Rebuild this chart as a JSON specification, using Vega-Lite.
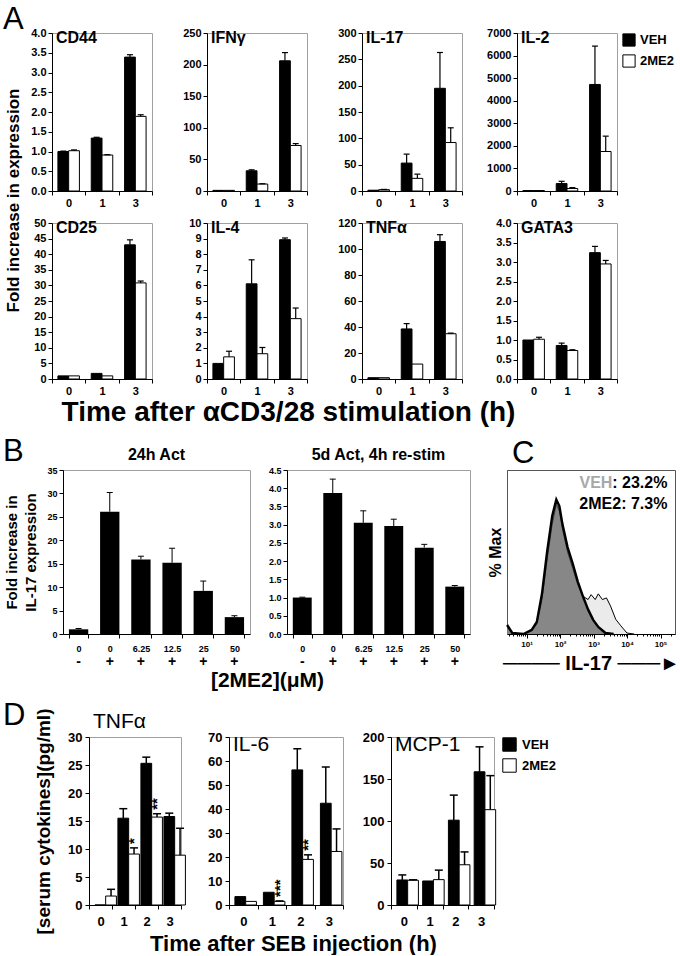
{
"$schema": "https://vega.github.io/schema/vega-lite/v6.json",
"background": "white",
"padding": {"left": 3, "top": 3, "right": 0, "bottom": 0},
"title": {"text": "A", "anchor": "start", "fontSize": 31, "fontWeight": "normal", "offset": -9},
"config": {
 "font": "Liberation Sans",
 "view": {"stroke": "#a0a0a0", "strokeWidth": 1},
 "axis": {"grid": false, "domainColor": "black", "domainWidth": 1, "tickColor": "black", "tickWidth": 1, "labelColor": "black", "labelFontWeight": "bold", "titleColor": "black", "titleFontWeight": "bold"},
 "title": {"color": "black"},
 "legend": {"labelColor": "black"}
},
"datasets": {
 "A": [
  {"g":"CD44","t":"0","s":"VEH","v":1.0,"hi":1.01},{"g":"CD44","t":"0","s":"2ME2","v":1.02,"hi":1.04},
  {"g":"CD44","t":"1","s":"VEH","v":1.34,"hi":1.36},{"g":"CD44","t":"1","s":"2ME2","v":0.91,"hi":0.92},
  {"g":"CD44","t":"3","s":"VEH","v":3.39,"hi":3.45},{"g":"CD44","t":"3","s":"2ME2","v":1.89,"hi":1.93},
  {"g":"IFNg","t":"0","s":"VEH","v":1.0},{"g":"IFNg","t":"0","s":"2ME2","v":1.0},
  {"g":"IFNg","t":"1","s":"VEH","v":32,"hi":33.5},{"g":"IFNg","t":"1","s":"2ME2","v":11,"hi":11.5},
  {"g":"IFNg","t":"3","s":"VEH","v":206,"hi":219},{"g":"IFNg","t":"3","s":"2ME2","v":72,"hi":75},
  {"g":"IL17","t":"0","s":"VEH","v":1.5},{"g":"IL17","t":"0","s":"2ME2","v":2.5,"hi":3},
  {"g":"IL17","t":"1","s":"VEH","v":53,"hi":70},{"g":"IL17","t":"1","s":"2ME2","v":24,"hi":32},
  {"g":"IL17","t":"3","s":"VEH","v":195,"hi":263},{"g":"IL17","t":"3","s":"2ME2","v":92,"hi":120},
  {"g":"IL2","t":"0","s":"VEH","v":20},{"g":"IL2","t":"0","s":"2ME2","v":20},
  {"g":"IL2","t":"1","s":"VEH","v":330,"hi":430},{"g":"IL2","t":"1","s":"2ME2","v":110,"hi":150},
  {"g":"IL2","t":"3","s":"VEH","v":4720,"hi":6420},{"g":"IL2","t":"3","s":"2ME2","v":1750,"hi":2430},
  {"g":"CD25","t":"0","s":"VEH","v":1.0},{"g":"CD25","t":"0","s":"2ME2","v":1.0},
  {"g":"CD25","t":"1","s":"VEH","v":1.8},{"g":"CD25","t":"1","s":"2ME2","v":1.0},
  {"g":"CD25","t":"3","s":"VEH","v":43.0,"hi":44.6},{"g":"CD25","t":"3","s":"2ME2","v":30.8,"hi":31.4},
  {"g":"IL4","t":"0","s":"VEH","v":1.0},{"g":"IL4","t":"0","s":"2ME2","v":1.42,"hi":1.78},
  {"g":"IL4","t":"1","s":"VEH","v":6.1,"hi":7.64},{"g":"IL4","t":"1","s":"2ME2","v":1.62,"hi":2.02},
  {"g":"IL4","t":"3","s":"VEH","v":8.93,"hi":9.04},{"g":"IL4","t":"3","s":"2ME2","v":3.87,"hi":4.55},
  {"g":"TNFa","t":"0","s":"VEH","v":1.0},{"g":"TNFa","t":"0","s":"2ME2","v":1.0},
  {"g":"TNFa","t":"1","s":"VEH","v":38.5,"hi":42.6},{"g":"TNFa","t":"1","s":"2ME2","v":11.5},
  {"g":"TNFa","t":"3","s":"VEH","v":105.8,"hi":111},{"g":"TNFa","t":"3","s":"2ME2","v":34.8,"hi":35.3},
  {"g":"GATA3","t":"0","s":"VEH","v":1.0},{"g":"GATA3","t":"0","s":"2ME2","v":1.02,"hi":1.07},
  {"g":"GATA3","t":"1","s":"VEH","v":0.86,"hi":0.92},{"g":"GATA3","t":"1","s":"2ME2","v":0.73,"hi":0.75},
  {"g":"GATA3","t":"3","s":"VEH","v":3.24,"hi":3.40},{"g":"GATA3","t":"3","s":"2ME2","v":2.95,"hi":3.04}
 ],
 "B": [
  {"p":"L","c":"0|-","v":1.0,"hi":1.2},{"p":"L","c":"0|+","v":26.1,"hi":30.2},{"p":"L","c":"6.25|+","v":15.9,"hi":16.6},
  {"p":"L","c":"12.5|+","v":15.2,"hi":18.3},{"p":"L","c":"25|+","v":9.2,"hi":11.3},{"p":"L","c":"50|+","v":3.6,"hi":3.9},
  {"p":"R","c":"0|-","v":1.0,"hi":1.01},{"p":"R","c":"0|+","v":3.87,"hi":4.25},{"p":"R","c":"6.25|+","v":3.05,"hi":3.38},
  {"p":"R","c":"12.5|+","v":2.96,"hi":3.15},{"p":"R","c":"25|+","v":2.37,"hi":2.46},{"p":"R","c":"50|+","v":1.3,"hi":1.33}
 ],
 "C": [
  {"s":"VEH","x":2.62,"y":5.5},{"s":"VEH","x":3.73,"y":0.6},{"s":"VEH","x":8.09,"y":0},{"s":"VEH","x":14.2,"y":1.8},
  {"s":"VEH","x":20.2,"y":6},{"s":"VEH","x":28.8,"y":21},{"s":"VEH","x":40.9,"y":45},{"s":"VEH","x":58.2,"y":67},
  {"s":"VEH","x":77.1,"y":79},{"s":"VEH","x":95.3,"y":75},{"s":"VEH","x":117.6,"y":64},{"s":"VEH","x":167,"y":50},
  {"s":"VEH","x":238,"y":40},{"s":"VEH","x":338,"y":30},{"s":"VEH","x":481,"y":23},{"s":"VEH","x":684,"y":21},
  {"s":"VEH","x":845,"y":24},{"s":"VEH","x":1119,"y":21},{"s":"VEH","x":1383,"y":24.5},{"s":"VEH","x":1834,"y":21},
  {"s":"VEH","x":2428,"y":22},{"s":"VEH","x":3219,"y":17},{"s":"VEH","x":4578,"y":9},{"s":"VEH","x":6508,"y":5},
  {"s":"VEH","x":9925,"y":0.6},{"s":"VEH","x":16250,"y":0},
  {"s":"2ME2","x":2.62,"y":5.5},{"s":"2ME2","x":3.73,"y":0.6},{"s":"2ME2","x":8.09,"y":0},{"s":"2ME2","x":14.2,"y":2.5},
  {"s":"2ME2","x":20.2,"y":7.4},{"s":"2ME2","x":28.8,"y":24.5},{"s":"2ME2","x":40.9,"y":50},{"s":"2ME2","x":58.2,"y":72},
  {"s":"2ME2","x":77.1,"y":82},{"s":"2ME2","x":95.3,"y":78},{"s":"2ME2","x":117.6,"y":67},{"s":"2ME2","x":167,"y":53},
  {"s":"2ME2","x":238,"y":43},{"s":"2ME2","x":338,"y":32},{"s":"2ME2","x":481,"y":23},{"s":"2ME2","x":684,"y":15},
  {"s":"2ME2","x":973,"y":8.6},{"s":"2ME2","x":1383,"y":4.3},{"s":"2ME2","x":2266,"y":0.6},{"s":"2ME2","x":3975,"y":0}
 ],
 "Cnote": [{"k":"a","txt":"VEH"},{"k":"b","txt":": 23.2%"},{"k":"c","txt":"2ME2: 7.3%"}],
 "D": [
  {"g":"TNFa","t":"0","s":"VEH","v":0},{"g":"TNFa","t":"0","s":"2ME2","v":1.6,"hi":2.8},
  {"g":"TNFa","t":"1","s":"VEH","v":15.5,"hi":17.2},{"g":"TNFa","t":"1","s":"2ME2","v":9.1,"hi":10.2,"sig":"*"},
  {"g":"TNFa","t":"2","s":"VEH","v":25.3,"hi":26.4},{"g":"TNFa","t":"2","s":"2ME2","v":15.7,"hi":16.3,"sig":"**"},
  {"g":"TNFa","t":"3","s":"VEH","v":15.8,"hi":16.4},{"g":"TNFa","t":"3","s":"2ME2","v":8.9,"hi":13.7},
  {"g":"IL6","t":"0","s":"VEH","v":3.5},{"g":"IL6","t":"0","s":"2ME2","v":1.5},
  {"g":"IL6","t":"1","s":"VEH","v":5.3},{"g":"IL6","t":"1","s":"2ME2","v":1.5,"hi":1.7,"sig":"***"},
  {"g":"IL6","t":"2","s":"VEH","v":56.3,"hi":65.1},{"g":"IL6","t":"2","s":"2ME2","v":19,"hi":20.9,"sig":"**"},
  {"g":"IL6","t":"3","s":"VEH","v":42.4,"hi":57.5},{"g":"IL6","t":"3","s":"2ME2","v":22.3,"hi":31.7},
  {"g":"MCP1","t":"0","s":"VEH","v":29.8,"hi":35.8},{"g":"MCP1","t":"0","s":"2ME2","v":29.5,"hi":30},
  {"g":"MCP1","t":"1","s":"VEH","v":28.6},{"g":"MCP1","t":"1","s":"2ME2","v":30.2,"hi":41.5},
  {"g":"MCP1","t":"2","s":"VEH","v":101,"hi":130.8},{"g":"MCP1","t":"2","s":"2ME2","v":47.9,"hi":63.2},
  {"g":"MCP1","t":"3","s":"VEH","v":158.6,"hi":188.3},{"g":"MCP1","t":"3","s":"2ME2","v":113.5,"hi":154}
 ]
},
"resolve": {"legend": {"fill": "independent"}},
"spacing": 8,
"vconcat": [
 {"bounds": "flush", "spacing": 0, "resolve": {"legend": {"fill": "independent"}},
  "hconcat": [
  {"width": 49, "height": 1, "view": {"fill": "white", "stroke": null}, "data": {"values": []}, "mark": "point"},
  {
  "columns": 4, "bounds": "flush", "spacing": {"row": 32, "column": 55},
  "resolve": {"legend": {"fill": "independent"}},
  "concat": [
   {"width": 100, "height": 158, "data": {"name": "A"}, "transform": [{"filter": "datum.g === 'CD44'"}],
    "title": {"text": "CD44", "anchor": "start", "frame": "group", "offset": 0, "dx": 4, "dy": 19, "fontSize": 16, "fontWeight": "bold"},
    "encoding": {"x": {"field": "t", "type": "nominal", "title": null, "scale": {"paddingInner": 0, "paddingOuter": 0}, "axis": {"labelAngle": 0, "tickBand": "extent", "labelFontSize": 11, "tickSize": 4, "labelPadding": 2}},
     "xOffset": {"field": "s", "type": "nominal", "sort": ["VEH", "2ME2"], "scale": {"paddingInner": 0, "paddingOuter": 0.55}}},
    "layer": [
     {"mark": {"type": "bar", "stroke": "black", "strokeWidth": 1}, "encoding": {"y": {"field": "v", "type": "quantitative", "title": "Fold increase in expression", "scale": {"domain": [0, 4], "nice": false}, "axis": {"values": [0,0.5,1,1.5,2,2.5,3,3.5,4], "tickCount": 30, "format": ".1f", "labelOverlap": false, "labelFontSize": 11, "tickSize": 4, "labelPadding": 2, "titleFontSize": 17, "titleY": 167, "titlePadding": 8}}, "fill": {"field": "s", "type": "nominal", "scale": {"domain": ["VEH", "2ME2"], "range": ["black", "white"]}, "legend": null}}},
     {"mark": {"type": "rule", "color": "black", "strokeWidth": 1.2}, "encoding": {"y": {"field": "hi", "type": "quantitative", "scale": {"domain": [0, 4], "nice": false}}, "y2": {"field": "v"}}},
     {"mark": {"type": "tick", "color": "black", "opacity": 1, "thickness": 1.2, "size": 6}, "encoding": {"y": {"field": "hi", "type": "quantitative", "scale": {"domain": [0, 4], "nice": false}}}}
    ]},
   {"width": 100, "height": 158, "data": {"name": "A"}, "transform": [{"filter": "datum.g === 'IFNg'"}],
    "title": {"text": "IFNγ", "anchor": "start", "frame": "group", "offset": 0, "dx": 4, "dy": 19, "fontSize": 16, "fontWeight": "bold"},
    "encoding": {"x": {"field": "t", "type": "nominal", "title": null, "scale": {"paddingInner": 0, "paddingOuter": 0}, "axis": {"labelAngle": 0, "tickBand": "extent", "labelFontSize": 11, "tickSize": 4, "labelPadding": 2}},
     "xOffset": {"field": "s", "type": "nominal", "sort": ["VEH", "2ME2"], "scale": {"paddingInner": 0, "paddingOuter": 0.55}}},
    "layer": [
     {"mark": {"type": "bar", "stroke": "black", "strokeWidth": 1}, "encoding": {"y": {"field": "v", "type": "quantitative", "title": null, "scale": {"domain": [0, 250], "nice": false}, "axis": {"values": [0,50,100,150,200,250], "tickCount": 30, "format": "d", "labelOverlap": false, "labelFontSize": 11, "tickSize": 4, "labelPadding": 2}}, "fill": {"field": "s", "type": "nominal", "scale": {"domain": ["VEH", "2ME2"], "range": ["black", "white"]}, "legend": null}}},
     {"mark": {"type": "rule", "color": "black", "strokeWidth": 1.2}, "encoding": {"y": {"field": "hi", "type": "quantitative", "scale": {"domain": [0, 250], "nice": false}}, "y2": {"field": "v"}}},
     {"mark": {"type": "tick", "color": "black", "opacity": 1, "thickness": 1.2, "size": 6}, "encoding": {"y": {"field": "hi", "type": "quantitative", "scale": {"domain": [0, 250], "nice": false}}}}
    ]},
   {"width": 100, "height": 158, "data": {"name": "A"}, "transform": [{"filter": "datum.g === 'IL17'"}],
    "title": {"text": "IL-17", "anchor": "start", "frame": "group", "offset": 0, "dx": 4, "dy": 19, "fontSize": 16, "fontWeight": "bold"},
    "encoding": {"x": {"field": "t", "type": "nominal", "title": null, "scale": {"paddingInner": 0, "paddingOuter": 0}, "axis": {"labelAngle": 0, "tickBand": "extent", "labelFontSize": 11, "tickSize": 4, "labelPadding": 2}},
     "xOffset": {"field": "s", "type": "nominal", "sort": ["VEH", "2ME2"], "scale": {"paddingInner": 0, "paddingOuter": 0.55}}},
    "layer": [
     {"mark": {"type": "bar", "stroke": "black", "strokeWidth": 1}, "encoding": {"y": {"field": "v", "type": "quantitative", "title": null, "scale": {"domain": [0, 300], "nice": false}, "axis": {"values": [0,50,100,150,200,250,300], "tickCount": 30, "format": "d", "labelOverlap": false, "labelFontSize": 11, "tickSize": 4, "labelPadding": 2}}, "fill": {"field": "s", "type": "nominal", "scale": {"domain": ["VEH", "2ME2"], "range": ["black", "white"]}, "legend": null}}},
     {"mark": {"type": "rule", "color": "black", "strokeWidth": 1.2}, "encoding": {"y": {"field": "hi", "type": "quantitative", "scale": {"domain": [0, 300], "nice": false}}, "y2": {"field": "v"}}},
     {"mark": {"type": "tick", "color": "black", "opacity": 1, "thickness": 1.2, "size": 6}, "encoding": {"y": {"field": "hi", "type": "quantitative", "scale": {"domain": [0, 300], "nice": false}}}}
    ]},
   {"width": 100, "height": 158, "data": {"name": "A"}, "transform": [{"filter": "datum.g === 'IL2'"}],
    "title": {"text": "IL-2", "anchor": "start", "frame": "group", "offset": 0, "dx": 4, "dy": 19, "fontSize": 16, "fontWeight": "bold"},
    "encoding": {"x": {"field": "t", "type": "nominal", "title": null, "scale": {"paddingInner": 0, "paddingOuter": 0}, "axis": {"labelAngle": 0, "tickBand": "extent", "labelFontSize": 11, "tickSize": 4, "labelPadding": 2}},
     "xOffset": {"field": "s", "type": "nominal", "sort": ["VEH", "2ME2"], "scale": {"paddingInner": 0, "paddingOuter": 0.55}}},
    "layer": [
     {"mark": {"type": "bar", "stroke": "black", "strokeWidth": 1}, "encoding": {"y": {"field": "v", "type": "quantitative", "title": null, "scale": {"domain": [0, 7000], "nice": false}, "axis": {"values": [0,1000,2000,3000,4000,5000,6000,7000], "tickCount": 30, "format": "d", "labelOverlap": false, "labelFontSize": 11, "tickSize": 4, "labelPadding": 2}}, "fill": {"field": "s", "type": "nominal", "scale": {"domain": ["VEH", "2ME2"], "range": ["black", "white"]}, "legend": {"title": null, "orient": "right", "offset": 5, "symbolType": "square", "symbolSize": 150, "symbolStrokeColor": "black", "symbolStrokeWidth": 1, "labelFontSize": 13, "labelFontWeight": "bold", "labelOffset": 4, "rowPadding": 3, "padding": 0}}}},
     {"mark": {"type": "rule", "color": "black", "strokeWidth": 1.2}, "encoding": {"y": {"field": "hi", "type": "quantitative", "scale": {"domain": [0, 7000], "nice": false}}, "y2": {"field": "v"}}},
     {"mark": {"type": "tick", "color": "black", "opacity": 1, "thickness": 1.2, "size": 6}, "encoding": {"y": {"field": "hi", "type": "quantitative", "scale": {"domain": [0, 7000], "nice": false}}}}
    ]},
   {"width": 100, "height": 156, "data": {"name": "A"}, "transform": [{"filter": "datum.g === 'CD25'"}],
    "title": {"text": "CD25", "anchor": "start", "frame": "group", "offset": 0, "dx": 4, "dy": 19, "fontSize": 16, "fontWeight": "bold"},
    "encoding": {"x": {"field": "t", "type": "nominal", "title": null, "scale": {"paddingInner": 0, "paddingOuter": 0}, "axis": {"labelAngle": 0, "tickBand": "extent", "labelFontSize": 11, "tickSize": 4, "labelPadding": 2}},
     "xOffset": {"field": "s", "type": "nominal", "sort": ["VEH", "2ME2"], "scale": {"paddingInner": 0, "paddingOuter": 0.55}}},
    "layer": [
     {"mark": {"type": "bar", "stroke": "black", "strokeWidth": 1}, "encoding": {"y": {"field": "v", "type": "quantitative", "title": null, "scale": {"domain": [0, 50], "nice": false}, "axis": {"values": [0,5,10,15,20,25,30,35,40,45,50], "tickCount": 30, "format": "d", "labelOverlap": false, "labelFontSize": 11, "tickSize": 4, "labelPadding": 2}}, "fill": {"field": "s", "type": "nominal", "scale": {"domain": ["VEH", "2ME2"], "range": ["black", "white"]}, "legend": null}}},
     {"mark": {"type": "rule", "color": "black", "strokeWidth": 1.2}, "encoding": {"y": {"field": "hi", "type": "quantitative", "scale": {"domain": [0, 50], "nice": false}}, "y2": {"field": "v"}}},
     {"mark": {"type": "tick", "color": "black", "opacity": 1, "thickness": 1.2, "size": 6}, "encoding": {"y": {"field": "hi", "type": "quantitative", "scale": {"domain": [0, 50], "nice": false}}}}
    ]},
   {"width": 100, "height": 156, "data": {"name": "A"}, "transform": [{"filter": "datum.g === 'IL4'"}],
    "title": {"text": "IL-4", "anchor": "start", "frame": "group", "offset": 0, "dx": 4, "dy": 19, "fontSize": 16, "fontWeight": "bold"},
    "encoding": {"x": {"field": "t", "type": "nominal", "title": "Time after αCD3/28 stimulation (h)", "scale": {"paddingInner": 0, "paddingOuter": 0}, "axis": {"labelAngle": 0, "tickBand": "extent", "labelFontSize": 11, "tickSize": 4, "labelPadding": 2, "titleX": 81, "titleFontSize": 28, "titlePadding": 2}},
     "xOffset": {"field": "s", "type": "nominal", "sort": ["VEH", "2ME2"], "scale": {"paddingInner": 0, "paddingOuter": 0.55}}},
    "layer": [
     {"mark": {"type": "bar", "stroke": "black", "strokeWidth": 1}, "encoding": {"y": {"field": "v", "type": "quantitative", "title": null, "scale": {"domain": [0, 10], "nice": false}, "axis": {"values": [0,1,2,3,4,5,6,7,8,9,10], "tickCount": 30, "format": "d", "labelOverlap": false, "labelFontSize": 11, "tickSize": 4, "labelPadding": 2}}, "fill": {"field": "s", "type": "nominal", "scale": {"domain": ["VEH", "2ME2"], "range": ["black", "white"]}, "legend": null}}},
     {"mark": {"type": "rule", "color": "black", "strokeWidth": 1.2}, "encoding": {"y": {"field": "hi", "type": "quantitative", "scale": {"domain": [0, 10], "nice": false}}, "y2": {"field": "v"}}},
     {"mark": {"type": "tick", "color": "black", "opacity": 1, "thickness": 1.2, "size": 6}, "encoding": {"y": {"field": "hi", "type": "quantitative", "scale": {"domain": [0, 10], "nice": false}}}}
    ]},
   {"width": 100, "height": 156, "data": {"name": "A"}, "transform": [{"filter": "datum.g === 'TNFa'"}],
    "title": {"text": "TNFα", "anchor": "start", "frame": "group", "offset": 0, "dx": 4, "dy": 19, "fontSize": 16, "fontWeight": "bold"},
    "encoding": {"x": {"field": "t", "type": "nominal", "title": null, "scale": {"paddingInner": 0, "paddingOuter": 0}, "axis": {"labelAngle": 0, "tickBand": "extent", "labelFontSize": 11, "tickSize": 4, "labelPadding": 2}},
     "xOffset": {"field": "s", "type": "nominal", "sort": ["VEH", "2ME2"], "scale": {"paddingInner": 0, "paddingOuter": 0.55}}},
    "layer": [
     {"mark": {"type": "bar", "stroke": "black", "strokeWidth": 1}, "encoding": {"y": {"field": "v", "type": "quantitative", "title": null, "scale": {"domain": [0, 120], "nice": false}, "axis": {"values": [0,20,40,60,80,100,120], "tickCount": 30, "format": "d", "labelOverlap": false, "labelFontSize": 11, "tickSize": 4, "labelPadding": 2}}, "fill": {"field": "s", "type": "nominal", "scale": {"domain": ["VEH", "2ME2"], "range": ["black", "white"]}, "legend": null}}},
     {"mark": {"type": "rule", "color": "black", "strokeWidth": 1.2}, "encoding": {"y": {"field": "hi", "type": "quantitative", "scale": {"domain": [0, 120], "nice": false}}, "y2": {"field": "v"}}},
     {"mark": {"type": "tick", "color": "black", "opacity": 1, "thickness": 1.2, "size": 6}, "encoding": {"y": {"field": "hi", "type": "quantitative", "scale": {"domain": [0, 120], "nice": false}}}}
    ]},
   {"width": 100, "height": 156, "data": {"name": "A"}, "transform": [{"filter": "datum.g === 'GATA3'"}],
    "title": {"text": "GATA3", "anchor": "start", "frame": "group", "offset": 0, "dx": 4, "dy": 19, "fontSize": 16, "fontWeight": "bold"},
    "encoding": {"x": {"field": "t", "type": "nominal", "title": null, "scale": {"paddingInner": 0, "paddingOuter": 0}, "axis": {"labelAngle": 0, "tickBand": "extent", "labelFontSize": 11, "tickSize": 4, "labelPadding": 2}},
     "xOffset": {"field": "s", "type": "nominal", "sort": ["VEH", "2ME2"], "scale": {"paddingInner": 0, "paddingOuter": 0.55}}},
    "layer": [
     {"mark": {"type": "bar", "stroke": "black", "strokeWidth": 1}, "encoding": {"y": {"field": "v", "type": "quantitative", "title": null, "scale": {"domain": [0, 4], "nice": false}, "axis": {"values": [0,0.5,1,1.5,2,2.5,3,3.5,4], "tickCount": 30, "format": ".1f", "labelOverlap": false, "labelFontSize": 11, "tickSize": 4, "labelPadding": 2}}, "fill": {"field": "s", "type": "nominal", "scale": {"domain": ["VEH", "2ME2"], "range": ["black", "white"]}, "legend": null}}},
     {"mark": {"type": "rule", "color": "black", "strokeWidth": 1.2}, "encoding": {"y": {"field": "hi", "type": "quantitative", "scale": {"domain": [0, 4], "nice": false}}, "y2": {"field": "v"}}},
     {"mark": {"type": "tick", "color": "black", "opacity": 1, "thickness": 1.2, "size": 6}, "encoding": {"y": {"field": "hi", "type": "quantitative", "scale": {"domain": [0, 4], "nice": false}}}}
    ]}
  ]
  }
 ]},
 {"bounds": "flush", "spacing": 0,
  "title": {"text": "B", "anchor": "start", "fontSize": 31, "fontWeight": "normal", "offset": -30},
  "hconcat": [
  {"width": 60, "height": 1, "view": {"fill": "white", "stroke": null}, "data": {"values": []}, "mark": "point"},
  {
  "bounds": "flush", "spacing": 37,
  "hconcat": [
   {"width": 187, "height": 164, "data": {"name": "B"}, "transform": [{"filter": "datum.p === 'L'"}],
    "title": {"text": "24h Act", "fontSize": 16, "fontWeight": "bold", "offset": 3},
    "resolve": {"scale": {"x": "independent"}, "axis": {"x": "independent"}},
    "layer": [
     {"mark": {"type": "bar", "color": "black"}, "encoding": {
       "x": {"field": "c", "type": "nominal", "sort": ["0|-","0|+","6.25|+","12.5|+","25|+","50|+"], "title": null, "scale": {"paddingInner": 0.38, "paddingOuter": 0.19}, "axis": {"orient": "bottom", "labelExpr": "isValid(datum.value) ? split(datum.value, '|')[0] : ''", "labelAngle": 0, "tickBand": "extent", "labelFontSize": 9, "tickSize": 4, "labelPadding": 6}},
       "y": {"field": "v", "type": "quantitative", "title": ["Fold increase in", "IL-17 expression"], "scale": {"domain": [0, 35], "nice": false}, "axis": {"values": [0,5,10,15,20,25,30,35], "tickCount": 30, "format": "d", "labelOverlap": false, "labelFontSize": 9, "tickSize": 4, "labelPadding": 2, "titleFontSize": 15, "titlePadding": 8, "titleLineHeight": 19}}}},
     {"mark": {"type": "rule", "color": "black", "strokeWidth": 1}, "encoding": {
       "x": {"field": "c", "type": "nominal", "sort": ["0|-","0|+","6.25|+","12.5|+","25|+","50|+"], "title": "[2ME2](μM)", "scale": {"paddingInner": 0.38, "paddingOuter": 0.19}, "axis": {"orient": "bottom", "labelExpr": "isValid(datum.value) ? split(datum.value, '|')[1] : ''", "labelAngle": 0, "ticks": false, "domain": false, "offset": 20, "labelFontSize": 14, "labelPadding": 0, "titleX": 204, "titleFontSize": 21, "titlePadding": 1}},
       "y": {"field": "hi", "type": "quantitative", "scale": {"domain": [0, 35], "nice": false}}, "y2": {"field": "v"}}},
     {"mark": {"type": "tick", "color": "black", "opacity": 1, "thickness": 1, "size": 6}, "encoding": {
       "x": {"field": "c", "type": "nominal", "sort": ["0|-","0|+","6.25|+","12.5|+","25|+","50|+"], "scale": {"paddingInner": 0.38, "paddingOuter": 0.19}, "axis": null},
       "y": {"field": "hi", "type": "quantitative", "scale": {"domain": [0, 35], "nice": false}}}}
    ]},
   {"width": 183, "height": 164, "data": {"name": "B"}, "transform": [{"filter": "datum.p === 'R'"}],
    "title": {"text": "5d Act, 4h re-stim", "fontSize": 16, "fontWeight": "bold", "offset": 3},
    "resolve": {"scale": {"x": "independent"}, "axis": {"x": "independent"}},
    "layer": [
     {"mark": {"type": "bar", "color": "black"}, "encoding": {
       "x": {"field": "c", "type": "nominal", "sort": ["0|-","0|+","6.25|+","12.5|+","25|+","50|+"], "title": null, "scale": {"paddingInner": 0.38, "paddingOuter": 0.19}, "axis": {"orient": "bottom", "labelExpr": "isValid(datum.value) ? split(datum.value, '|')[0] : ''", "labelAngle": 0, "tickBand": "extent", "labelFontSize": 9, "tickSize": 4, "labelPadding": 6}},
       "y": {"field": "v", "type": "quantitative", "title": null, "scale": {"domain": [0, 4.5], "nice": false}, "axis": {"values": [0,0.5,1,1.5,2,2.5,3,3.5,4,4.5], "tickCount": 30, "format": ".1f", "labelOverlap": false, "labelFontSize": 9, "tickSize": 4, "labelPadding": 2}}}},
     {"mark": {"type": "rule", "color": "black", "strokeWidth": 1}, "encoding": {
       "x": {"field": "c", "type": "nominal", "sort": ["0|-","0|+","6.25|+","12.5|+","25|+","50|+"], "title": null, "scale": {"paddingInner": 0.38, "paddingOuter": 0.19}, "axis": {"orient": "bottom", "labelExpr": "isValid(datum.value) ? split(datum.value, '|')[1] : ''", "labelAngle": 0, "ticks": false, "domain": false, "offset": 20, "labelFontSize": 14, "labelPadding": 0}},
       "y": {"field": "hi", "type": "quantitative", "scale": {"domain": [0, 4.5], "nice": false}}, "y2": {"field": "v"}}},
     {"mark": {"type": "tick", "color": "black", "opacity": 1, "thickness": 1, "size": 6}, "encoding": {
       "x": {"field": "c", "type": "nominal", "sort": ["0|-","0|+","6.25|+","12.5|+","25|+","50|+"], "scale": {"paddingInner": 0.38, "paddingOuter": 0.19}, "axis": null},
       "y": {"field": "hi", "type": "quantitative", "scale": {"domain": [0, 4.5], "nice": false}}}}
    ]},
   {"width": 168, "height": 164, "view": {"stroke": "#555555"},
    "title": {"text": "C", "anchor": "start", "fontSize": 31, "fontWeight": "normal", "offset": 0, "dx": 25},
    "layer": [
     {"data": {"name": "C"}, "transform": [{"filter": "datum.s === 'VEH'"}],
      "mark": {"type": "area", "fill": "#e2e2e2", "line": {"color": "black", "strokeWidth": 1}},
      "encoding": {
       "x": {"field": "x", "type": "quantitative", "title": "──── IL-17 ───►", "scale": {"type": "log", "domain": [2.6, 270000], "nice": false},
        "axis": {"values": [3,4,5,6,7,8,9,10,20,30,40,50,60,70,80,90,100,200,300,400,500,600,700,800,900,1000,2000,3000,4000,5000,6000,7000,8000,9000,10000,20000,30000,40000,50000,60000,70000,80000,90000,100000,200000],
         "tickCount": 100,
         "labelExpr": "indexof([10,100,1000,10000,100000], datum.value) >= 0 ? '10' + ['¹','²','³','⁴','⁵'][round(log(datum.value)/LN10) - 1] : ''",
         "labelOverlap": false, "labelFontSize": 8, "labelPadding": 2,
         "tickSize": {"condition": {"test": "indexof([10,100,1000,10000,100000], datum.value) >= 0", "value": 4}, "value": 2},
         "titleFontSize": 20, "titlePadding": 5}},
       "y": {"field": "y", "type": "quantitative", "title": "% Max", "scale": {"domain": [0, 100], "nice": false}, "axis": {"labels": false, "ticks": false, "domainColor": "#555555", "titleFontSize": 16, "titlePadding": 4}}}},
     {"data": {"name": "C"}, "transform": [{"filter": "datum.s === '2ME2'"}],
      "mark": {"type": "area", "fill": "#5c5c5c", "line": {"color": "black", "strokeWidth": 2.4}},
      "encoding": {"x": {"field": "x", "type": "quantitative"}, "y": {"field": "y", "type": "quantitative"}}},
     {"data": {"name": "Cnote"}, "transform": [{"filter": "datum.k === 'b'"}],
      "mark": {"type": "text", "align": "right", "baseline": "alphabetic", "fontSize": 16, "fontWeight": "bold", "color": "black"},
      "encoding": {"x": {"datum": 160000}, "y": {"datum": 89}, "text": {"field": "txt"}}},
     {"data": {"name": "Cnote"}, "transform": [{"filter": "datum.k === 'a'"}],
      "mark": {"type": "text", "align": "right", "baseline": "alphabetic", "fontSize": 16, "fontWeight": "bold", "color": "#a8a8a8", "dx": -55},
      "encoding": {"x": {"datum": 160000}, "y": {"datum": 89}, "text": {"field": "txt"}}},
     {"data": {"name": "Cnote"}, "transform": [{"filter": "datum.k === 'c'"}],
      "mark": {"type": "text", "align": "right", "baseline": "alphabetic", "fontSize": 16, "fontWeight": "bold", "color": "black"},
      "encoding": {"x": {"datum": 160000}, "y": {"datum": 76}, "text": {"field": "txt"}}}
    ]}
  ]
  }
 ]},
 {"bounds": "flush", "spacing": 0,
  "title": {"text": "D", "anchor": "start", "fontSize": 31, "fontWeight": "normal", "offset": -24},
  "resolve": {"legend": {"fill": "independent"}},
  "hconcat": [
  {"width": 86, "height": 1, "view": {"fill": "white", "stroke": null}, "data": {"values": []}, "mark": "point"},
  {
  "bounds": "flush", "spacing": 48,
  "resolve": {"legend": {"fill": "independent"}},
  "hconcat": [
   {"width": 92, "height": 168, "data": {"name": "D"}, "transform": [{"filter": "datum.g === 'TNFa'"}],
    "title": {"text": "TNFα", "anchor": "start", "frame": "group", "offset": 0, "dx": 4, "dy": 24, "fontSize": 21, "fontWeight": "normal"},
    "encoding": {"x": {"field": "t", "type": "nominal", "title": null, "scale": {"paddingInner": 0, "paddingOuter": 0}, "axis": {"labelAngle": 0, "tickBand": "extent", "labelFontSize": 13, "tickSize": 4, "labelPadding": 6}},
     "xOffset": {"field": "s", "type": "nominal", "sort": ["VEH", "2ME2"], "scale": {"paddingInner": 0, "paddingOuter": 0.33}}},
    "layer": [
     {"mark": {"type": "bar", "stroke": "black", "strokeWidth": 1}, "encoding": {"y": {"field": "v", "type": "quantitative", "title": "[serum cytokines](pg/ml)", "scale": {"domain": [0, 30], "nice": false}, "axis": {"values": [0,5,10,15,20,25,30], "tickCount": 30, "format": "d", "labelOverlap": false, "labelFontSize": 13, "tickSize": 4, "labelPadding": 3, "titleFontSize": 19, "titlePadding": 14}}, "fill": {"field": "s", "type": "nominal", "scale": {"domain": ["VEH", "2ME2"], "range": ["black", "white"]}, "legend": null}}},
     {"mark": {"type": "rule", "color": "black", "strokeWidth": 1.5}, "encoding": {"y": {"field": "hi", "type": "quantitative", "scale": {"domain": [0, 30], "nice": false}}, "y2": {"field": "v"}}},
     {"mark": {"type": "tick", "color": "black", "opacity": 1, "thickness": 1.5, "size": 8}, "encoding": {"y": {"field": "hi", "type": "quantitative", "scale": {"domain": [0, 30], "nice": false}}}},
     {"transform": [{"filter": "datum.sig"}], "mark": {"type": "text", "angle": 270, "align": "left", "baseline": "middle", "dx": 4, "dy": 0, "fontSize": 15, "fontWeight": "bold", "color": "black"}, "encoding": {"y": {"field": "hi", "type": "quantitative", "scale": {"domain": [0, 30], "nice": false}}, "text": {"field": "sig"}}}
    ]},
   {"width": 114, "height": 168, "data": {"name": "D"}, "transform": [{"filter": "datum.g === 'IL6'"}],
    "title": {"text": "IL-6", "anchor": "start", "frame": "group", "offset": 0, "dx": 4, "dy": 24, "fontSize": 21, "fontWeight": "normal"},
    "encoding": {"x": {"field": "t", "type": "nominal", "title": "Time after SEB injection (h)", "scale": {"paddingInner": 0, "paddingOuter": 0}, "axis": {"labelAngle": 0, "tickBand": "extent", "labelFontSize": 13, "tickSize": 4, "labelPadding": 6, "titleX": 64, "titleFontSize": 22, "titlePadding": 5}},
     "xOffset": {"field": "s", "type": "nominal", "sort": ["VEH", "2ME2"], "scale": {"paddingInner": 0, "paddingOuter": 0.33}}},
    "layer": [
     {"mark": {"type": "bar", "stroke": "black", "strokeWidth": 1}, "encoding": {"y": {"field": "v", "type": "quantitative", "title": null, "scale": {"domain": [0, 70], "nice": false}, "axis": {"values": [0,10,20,30,40,50,60,70], "tickCount": 30, "format": "d", "labelOverlap": false, "labelFontSize": 13, "tickSize": 4, "labelPadding": 3}}, "fill": {"field": "s", "type": "nominal", "scale": {"domain": ["VEH", "2ME2"], "range": ["black", "white"]}, "legend": null}}},
     {"mark": {"type": "rule", "color": "black", "strokeWidth": 1.5}, "encoding": {"y": {"field": "hi", "type": "quantitative", "scale": {"domain": [0, 70], "nice": false}}, "y2": {"field": "v"}}},
     {"mark": {"type": "tick", "color": "black", "opacity": 1, "thickness": 1.5, "size": 8}, "encoding": {"y": {"field": "hi", "type": "quantitative", "scale": {"domain": [0, 70], "nice": false}}}},
     {"transform": [{"filter": "datum.sig"}], "mark": {"type": "text", "angle": 270, "align": "left", "baseline": "middle", "dx": 4, "dy": 0, "fontSize": 15, "fontWeight": "bold", "color": "black"}, "encoding": {"y": {"field": "hi", "type": "quantitative", "scale": {"domain": [0, 70], "nice": false}}, "text": {"field": "sig"}}}
    ]},
   {"width": 103, "height": 168, "data": {"name": "D"}, "transform": [{"filter": "datum.g === 'MCP1'"}],
    "title": {"text": "MCP-1", "anchor": "start", "frame": "group", "offset": 0, "dx": 4, "dy": 24, "fontSize": 21, "fontWeight": "normal"},
    "encoding": {"x": {"field": "t", "type": "nominal", "title": null, "scale": {"paddingInner": 0, "paddingOuter": 0}, "axis": {"labelAngle": 0, "tickBand": "extent", "labelFontSize": 13, "tickSize": 4, "labelPadding": 6}},
     "xOffset": {"field": "s", "type": "nominal", "sort": ["VEH", "2ME2"], "scale": {"paddingInner": 0, "paddingOuter": 0.33}}},
    "layer": [
     {"mark": {"type": "bar", "stroke": "black", "strokeWidth": 1}, "encoding": {"y": {"field": "v", "type": "quantitative", "title": null, "scale": {"domain": [0, 200], "nice": false}, "axis": {"values": [0,50,100,150,200], "tickCount": 30, "format": "d", "labelOverlap": false, "labelFontSize": 13, "tickSize": 4, "labelPadding": 3}}, "fill": {"field": "s", "type": "nominal", "scale": {"domain": ["VEH", "2ME2"], "range": ["black", "white"]}, "legend": {"title": null, "orient": "right", "offset": 8, "symbolType": "square", "symbolSize": 180, "symbolStrokeColor": "black", "symbolStrokeWidth": 1, "labelFontSize": 13, "labelFontWeight": "bold", "labelOffset": 5, "rowPadding": 2, "padding": 0}}}},
     {"mark": {"type": "rule", "color": "black", "strokeWidth": 1.5}, "encoding": {"y": {"field": "hi", "type": "quantitative", "scale": {"domain": [0, 200], "nice": false}}, "y2": {"field": "v"}}},
     {"mark": {"type": "tick", "color": "black", "opacity": 1, "thickness": 1.5, "size": 8}, "encoding": {"y": {"field": "hi", "type": "quantitative", "scale": {"domain": [0, 200], "nice": false}}}}
    ]}
  ]
  }
 ]}
]
}
